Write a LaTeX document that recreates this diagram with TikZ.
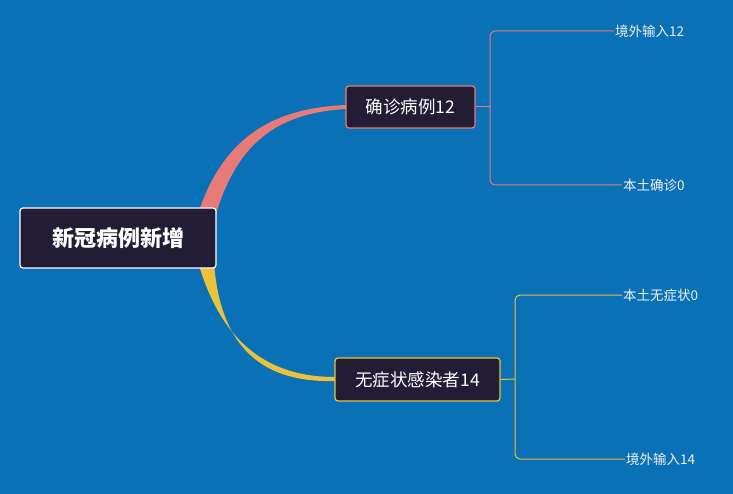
\documentclass[tikz,border=0pt]{standalone}
\usepackage{fontspec}
\setmainfont{Noto Sans CJK SC}
\definecolor{bg}{HTML}{0A71B6}
\definecolor{boxfill}{HTML}{231C35}
\definecolor{pinkc}{HTML}{E87A78}
\definecolor{yelc}{HTML}{EBC23A}
\definecolor{leafc}{HTML}{F0F0F0}
\tikzset{
  box/.style={draw, line width=1.2pt, fill=boxfill, rounded corners=3pt, text=white, inner sep=0pt},
  leaf/.style={text=leafc, font=\fontsize{13.5}{15}\selectfont, anchor=west, inner sep=1pt},
}
\begin{document}
\begin{tikzpicture}[x=1pt,y=-1pt]
\fill[bg] (0,0) rectangle (733,494);
\useasboundingbox (0,0) rectangle (733,494);
% curves
\fill[pinkc] (198,214) .. controls (222,140) and (270,108) .. (346,105) -- (346,109) .. controls (275,113) and (237,145) .. (216,214) -- cycle;
\fill[yelc] (198,262) .. controls (222,345) and (270,377) .. (335,377) -- (335,381) .. controls (265,383) and (220,350) .. (214,262) -- cycle;
\node[box, draw=white, minimum width=196pt, minimum height=60pt, font=\bfseries\fontsize{22}{26}\selectfont] (root) at (118,238) {新冠病例新增};
\node[box, draw=pinkc, minimum width=129pt, minimum height=42pt, font=\fontsize{17.5}{20}\selectfont] (b1) at (410.5,107) {确诊病例12};
\node[box, draw=yelc, minimum width=165pt, minimum height=43pt, font=\fontsize{17.5}{20}\selectfont] (b2) at (417.5,379.5) {无症状感染者14};
\node[leaf] (l1) at (614,31) {境外输入12};
\node[leaf] (l2) at (622,185) {本土确诊0};
\node[leaf] (l3) at (622,295) {本土无症状0};
\node[leaf] (l4) at (625,459) {境外输入14};
\draw[pinkc, line width=1pt] (b1.east) -- (490,107);
\draw[pinkc, line width=1pt, rounded corners=5pt] (490,107) |- (l1.west);
\draw[pinkc, line width=1pt, rounded corners=5pt] (490,107) |- (l2.west);
\draw[yelc, line width=1pt] (b2.east) -- (515,379);
\draw[yelc, line width=1pt, rounded corners=5pt] (515,379) |- (l3.west);
\draw[yelc, line width=1pt, rounded corners=5pt] (515,379) |- (l4.west);
\end{tikzpicture}
\end{document}
